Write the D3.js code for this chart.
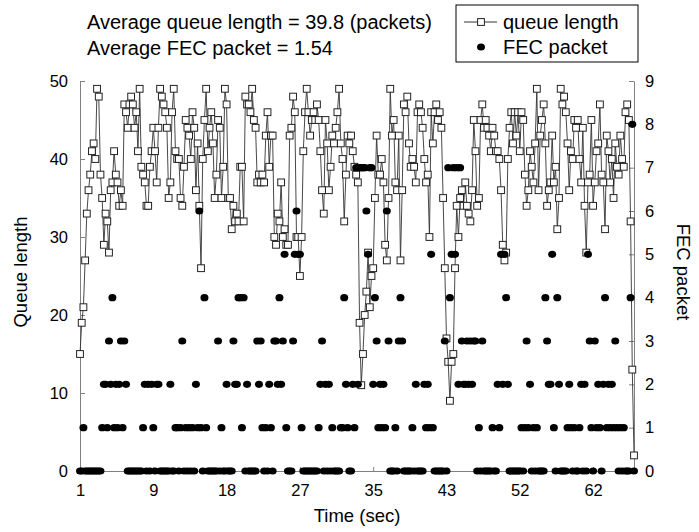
<!DOCTYPE html>
<html>
<head>
<meta charset="utf-8">
<script src="https://cdn.jsdelivr.net/npm/d3@7"></script>
<style>
  body { margin: 0; background: #fff; }
  text { font-family: "Liberation Sans", Arial, sans-serif; fill: #000; }
</style>
</head>
<body>
<svg id="chart" width="699" height="532"></svg>
<script>
// queue length per sample (packets)
const queueLength = [
  15,19,21,27,33,36,38,41,42,40,49,48,38,35,29,33,32,28,36,37,
  41,38,37,34,36,34,47,46,44,47,48,47,44,46,41,49,39,38,37,34,
  34,39,41,44,41,37,44,49,48,47,46,44,35,37,46,49,41,40,40,35,
  34,39,45,44,43,40,46,44,36,42,34,26,40,45,49,41,44,46,42,35,
  38,45,44,35,39,49,47,35,35,31,34,32,33,32,39,39,32,48,47,47,
  46,49,45,44,37,
  38,37,38,37,43,46,39,43,43,30,29,33,32,37,30,31,29,29,43,44,
  48,46,30,30,25,30,41,46,49,46,43,45,46,45,47,45,41,36,33,45,
  42,36,39,43,42,44,46,49,42,40,32,38,43,42,
  43,41,39,38,37,19,11,15,20,23,28,21,25,26,35,43,38,38,40,37,
  29,27,35,49,43,45,37,36,43,27,36,47,46,48,42,39,40,39,37,46,
  47,46,44,40,37,38,30,46,42,46,47,45,46,44,35,26,17,14,9,14,
  15,26,34,30,35,36,34,37,34,33,32,36,45,41,34,35,45,47,44,45,
  44,43,41,
  44,43,41,41,40,36,29,27,28,40,44,46,42,46,43,46,41,46,45,38,
  34,36,41,39,37,42,49,36,43,45,47,42,34,36,37,43,37,39,31,35,
  49,47,48,46,42,36,41,40,45,44,45,40,37,44,34,28,37,38,45,34,
  37,41,42,47,38,37,31,43,41,37,40,35,42,39,38,43,40,39,46,47,
  45,32,13,2
];

// FEC packets per sample
const fecPacket = [
  0,0,1,0,0,0,0,0,0,0, 0,0,0,1,2,2,1,3,2,4, 1,2,1,2,3,1,3,2,0,0,
  0,0,0,0,0,0,0,1,2,0, 2,0,2,1,0,2,2,0,0,0, 0,0,0,2,0,0,1,1,0,1,
  3,0,1,0,1,0,1,0,2,1, 6,1,0,4,1,0,0,0,0,0, 0,3,0,1,0,0,2,0,0,0,
  3,2,2,4,4,1,4,0,2,0, 0,0,0,0,3,2,3,1,0,1, 0,2,1,0,3,3,2,4,2,3,
  5,1,0,0,0,3,5,6,5,5, 1,0,0,0,0,0,0,0,0,0, 1,2,3,0,2,0,2,0,1,0,
  0,0,0,1,1,4,2,1,0,0, 2,1,7,2,7,7,7,7,6,5, 7,7,2,4,3,1,2,1,2,1,
  6,3,0,0,0,1,0,3,4,3, 0,0,0,0,0,1,0,2,0,0, 0,0,2,1,2,1,5,1,0,0,
  0,0,0,0,3,0,7,4,5,7, 5,7,2,7,3,2,2,3,2,3, 2,3,3,0,1,0,3,0,0,0,
  0,0,1,0,0,2,1,5,2,5, 4,2,0,0,0,0,0,0,0,1, 0,1,3,1,2,0,1,0,1,0,
  0,0,0,4,3,2,2,5,1,0, 4,2,0,0,0,0,1,2,1,0, 1,0,0,1,2,0,2,0,5,3,
  1,0,3,1,2,1,0,2,4,1, 2,1,2,1,3,1,0,1,0,1, 0,0,0,4,8,0
];

const timeTickIndex = [0, 43, 86, 129, 172, 215, 258, 301];
const timeTickLabels = ["1", "9", "18", "27", "35", "43", "52", "62"];
const queueTicks = [0, 10, 20, 30, 40, 50];
const fecTicks = [0, 1, 2, 3, 4, 5, 6, 7, 8, 9];

const svg = d3.select("#chart");
const plotLeft = 80, plotRight = 634, plotTop = 81, plotBottom = 471;
const axisColor = "#808080";

const x = d3.scaleLinear().domain([0, queueLength.length - 1]).range([plotLeft, plotRight]);
const yQ = d3.scaleLinear().domain([0, 50]).range([plotBottom, plotTop]);
const yF = d3.scaleLinear().domain([0, 9]).range([plotBottom, plotTop]);

// axes
const gx = svg.append("g").attr("transform", `translate(0,${plotBottom})`)
  .call(d3.axisBottom(x).tickValues(timeTickIndex)
    .tickFormat((d, i) => timeTickLabels[i])
    .tickSizeInner(-4).tickSizeOuter(0).tickPadding(13));
const gl = svg.append("g").attr("transform", `translate(${plotLeft},0)`)
  .call(d3.axisLeft(yQ).tickValues(queueTicks).tickSizeInner(-5).tickSizeOuter(0).tickPadding(12));
const gr = svg.append("g").attr("transform", `translate(${plotRight},0)`)
  .call(d3.axisRight(yF).tickValues(fecTicks).tickSizeInner(-5).tickSizeOuter(0).tickPadding(11));

[gx, gl, gr].forEach(g => {
  g.selectAll("path, line").attr("stroke", axisColor);
  g.selectAll("text").attr("font-size", 16.5).attr("font-family", "Liberation Sans, Arial, sans-serif").attr("fill", "#000");
});

// queue length line + square markers
const line = d3.line().x((d, i) => x(i)).y(d => yQ(d));
svg.append("path").datum(queueLength)
  .attr("d", line).attr("fill", "none").attr("stroke", "#333").attr("stroke-width", 0.9);

const sq = 6.8;
svg.append("g").selectAll("rect").data(queueLength).join("rect")
  .attr("x", (d, i) => x(i) - sq / 2).attr("y", d => yQ(d) - sq / 2)
  .attr("width", sq).attr("height", sq)
  .attr("fill", "#fff").attr("stroke", "#222").attr("stroke-width", 1);

// FEC packet dots
svg.append("g").selectAll("ellipse").data(fecPacket).join("ellipse")
  .attr("cx", (d, i) => x(i)).attr("cy", d => yF(d))
  .attr("rx", 4).attr("ry", 3.6).attr("fill", "#000");

// axis titles
svg.append("text").attr("transform", "translate(27,272) rotate(-90)")
  .attr("text-anchor", "middle").attr("font-size", 18.5).text("Queue length");
svg.append("text").attr("transform", "translate(677,272) rotate(90)")
  .attr("text-anchor", "middle").attr("font-size", 18.5).text("FEC packet");
svg.append("text").attr("x", 357).attr("y", 522)
  .attr("text-anchor", "middle").attr("font-size", 18.5).text("Time (sec)");

// annotations
svg.append("text").attr("x", 87).attr("y", 29).attr("font-size", 20)
  .text("Average queue length = 39.8 (packets)");
svg.append("text").attr("x", 87).attr("y", 55).attr("font-size", 20)
  .text("Average FEC packet = 1.54");

// legend
const lg = svg.append("g");
lg.append("rect").attr("x", 456).attr("y", 5).attr("width", 182).attr("height", 57)
  .attr("fill", "#fff").attr("stroke", "#000").attr("stroke-width", 1);
lg.append("line").attr("x1", 464).attr("x2", 497).attr("y1", 22).attr("y2", 22)
  .attr("stroke", "#333");
lg.append("rect").attr("x", 481 - sq / 2).attr("y", 22 - sq / 2).attr("width", sq).attr("height", sq)
  .attr("fill", "#fff").attr("stroke", "#222");
lg.append("ellipse").attr("cx", 481).attr("cy", 47).attr("rx", 4).attr("ry", 3.6).attr("fill", "#000");
lg.append("text").attr("x", 503).attr("y", 29).attr("font-size", 20).text("queue length");
lg.append("text").attr("x", 503).attr("y", 54).attr("font-size", 20).text("FEC packet");
</script>
</body>
</html>
